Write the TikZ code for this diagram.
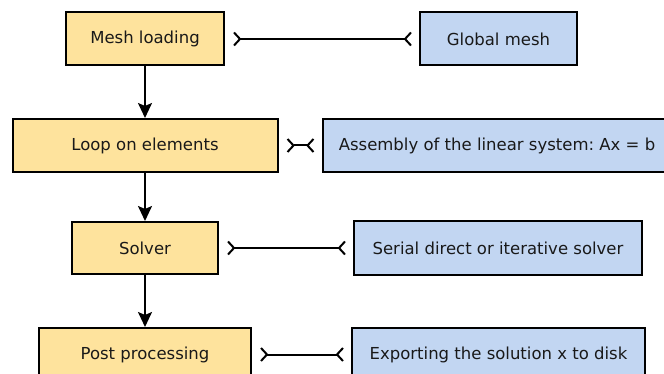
\documentclass[tikz,border=0pt]{standalone}
\usepackage{fontspec}
\setmainfont{DejaVu Sans}
\usetikzlibrary{arrows.meta}
\definecolor{boxyellow}{HTML}{FEE39D}
\definecolor{boxblue}{HTML}{C2D6F2}
\tikzset{
  x=1pt, y=-1pt,
  base/.style={draw=black, line width=2pt, inner sep=0pt, font=\fontsize{16.5}{19}\selectfont, text=black!90},
  stepbox/.style={base, fill=boxyellow},
  infobox/.style={base, fill=boxblue},
  flow/.style={line width=2pt, -{Stealth[length=15pt, width=14pt, inset=3pt]}},
  link/.style={line width=2pt, {Straight Barb[reversed, length=6pt, width=13pt]}-{Straight Barb[reversed, length=6pt, width=13pt]}, shorten <=8pt, shorten >=7pt}
}
\frenchspacing
\begin{document}
\begin{tikzpicture}
\useasboundingbox (0,0) rectangle (664,374);
\clip (0,0) rectangle (664,374);
\node[stepbox, minimum width=158pt, minimum height=53pt] (mesh) at (145,39) {Mesh loading};
\node[infobox, minimum width=157pt, minimum height=53pt] (global) at (498.5,39) {Global mesh};
\node[stepbox, minimum width=265pt, minimum height=53pt] (loop) at (145,145.5) {Loop on elements};
\node[infobox, minimum width=349pt, minimum height=53pt] (assembly) at (497,145.5) {Assembly of the linear system: Ax = b};
\node[stepbox, minimum width=146pt, minimum height=52pt] (solver) at (145,248) {Solver};
\node[infobox, minimum width=288pt, minimum height=53pt] (serial) at (498,248) {Serial direct or iterative solver};
\node[stepbox, minimum width=212pt, minimum height=53pt] (post) at (145,354.5) {Post processing};
\node[infobox, minimum width=293pt, minimum height=53pt] (export) at (498.5,354.5) {Exporting the solution x to disk};
\draw[flow] (mesh.south) -- (loop.north);
\draw[flow] (loop.south) -- (solver.north);
\draw[flow] (solver.south) -- (post.north);
\draw[link] (mesh.east) -- (global.west);
\draw[link] (loop.east) -- (assembly.west);
\draw[link] (solver.east) -- (serial.west);
\draw[link] (post.east) -- (export.west);
\end{tikzpicture}
\end{document}
